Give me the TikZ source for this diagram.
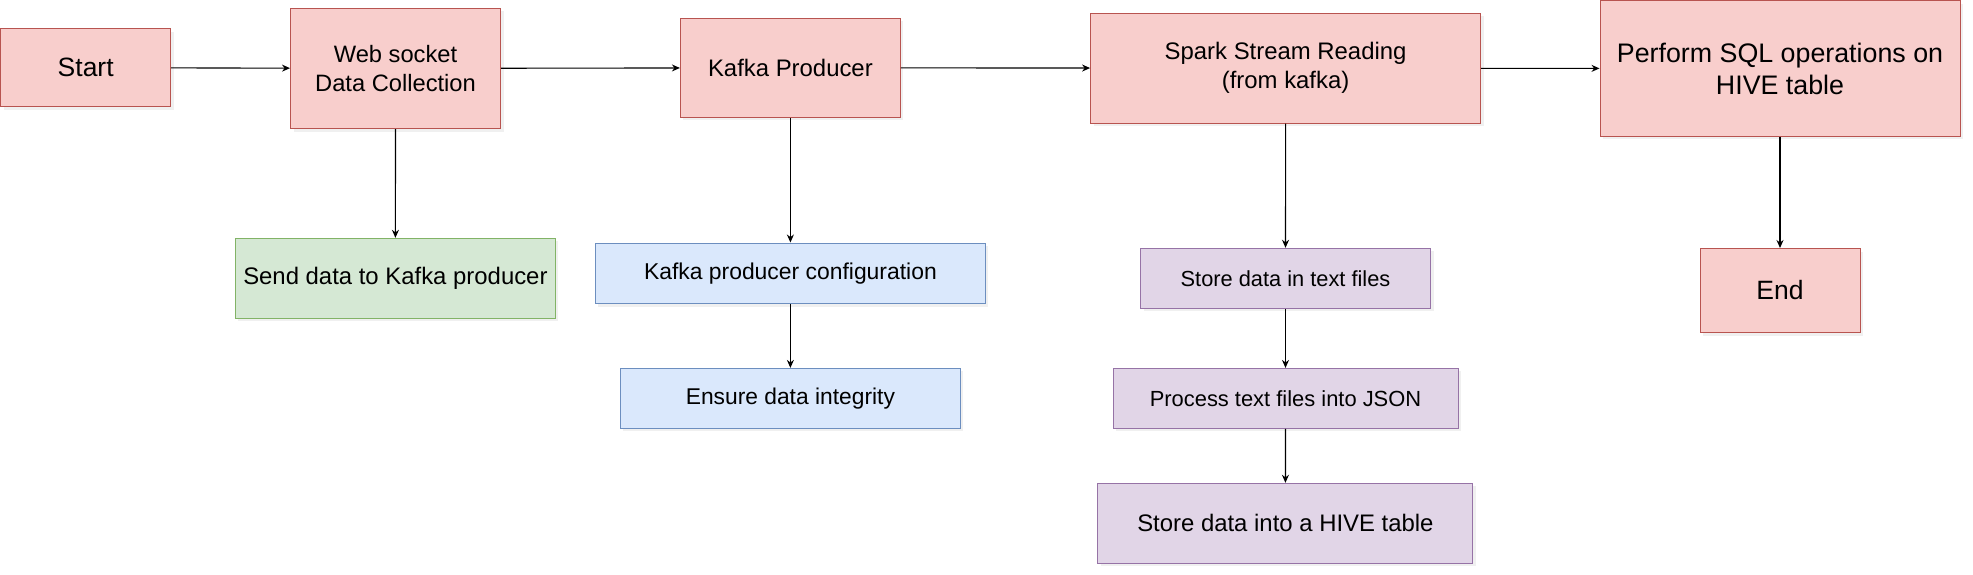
\documentclass[tikz,border=0pt]{standalone}
\usepackage{fontspec}
\setmainfont{Liberation Sans}
\usepackage{xcolor}
\usepackage{tikz}
\usetikzlibrary{arrows.meta,shadows}

\definecolor{redfill}{HTML}{F8CECC}
\definecolor{redline}{HTML}{B85450}
\definecolor{greenfill}{HTML}{D5E8D4}
\definecolor{greenline}{HTML}{82B366}
\definecolor{bluefill}{HTML}{DAE8FC}
\definecolor{blueline}{HTML}{6C8EBF}
\definecolor{purplefill}{HTML}{E1D5E7}
\definecolor{purpleline}{HTML}{9673A6}

\begin{document}
\begin{tikzpicture}[x=1pt, y=-1pt,
    box/.style={rectangle, line width=1pt, align=center, inner sep=0pt,
        drop shadow={shadow xshift=3pt, shadow yshift=-3pt, opacity=0.12, fill=gray}},
    redbox/.style={box, fill=redfill, draw=redline},
    greenbox/.style={box, fill=greenfill, draw=greenline},
    bluebox/.style={box, fill=bluefill, draw=blueline},
    purplebox/.style={box, fill=purplefill, draw=purpleline},
    flow/.style={-{Stealth[length=8pt,width=7pt]}, line width=1.1pt}]
            \useasboundingbox (0,0) rectangle (1973,575);
            % Main row
                        \node[redbox, minimum width=170pt, minimum height=78pt, font=\fontsize{26.5}{32}\selectfont] (start) at (85.7,67.7) {Start};
                        \node[redbox, minimum width=210pt, minimum height=120.6pt, font=\fontsize{23.7}{29}\selectfont] (websocket) at (395.5,68.4) {Web socket\\Data Collection};
                        \node[redbox, minimum width=220pt, minimum height=99pt, font=\fontsize{23.9}{29}\selectfont] (producer) at (790.4,67.8) {Kafka Producer};
                        \node[redbox, minimum width=390pt, minimum height=110pt, font=\fontsize{23.9}{29}\selectfont] (spark) at (1285.6,68.2) {Spark Stream Reading\\(from kafka)};
                        \node[redbox, minimum width=360pt, minimum height=135.5pt, font=\fontsize{26.8}{32}\selectfont] (sql) at (1780,68.5) {Perform SQL operations on\\HIVE table};
            % Branches
                        \node[greenbox, minimum width=320pt, minimum height=80pt, font=\fontsize{23.9}{29}\selectfont] (send) at (395.4,278.3) {Send data to Kafka producer};
                        \node[bluebox, minimum width=390pt, minimum height=60.6pt, font=\fontsize{22.9}{28}\selectfont] (config) at (790.4,273.3) {Kafka producer configuration};
                        \node[bluebox, minimum width=340pt, minimum height=60pt, font=\fontsize{22.8}{28}\selectfont] (integrity) at (790.4,398.4) {Ensure data integrity};
                        \node[purplebox, minimum width=290pt, minimum height=60pt, font=\fontsize{21.8}{27}\selectfont] (textfiles) at (1285.5,278.3) {Store data in text files};
                        \node[purplebox, minimum width=345pt, minimum height=60pt, font=\fontsize{21.9}{27}\selectfont] (json) at (1285.5,398.4) {Process text files into JSON};
                        \node[purplebox, minimum width=375pt, minimum height=80pt, font=\fontsize{23.9}{29}\selectfont] (hive) at (1285.4,523.3) {Store data into a HIVE table};
                        \node[redbox, minimum width=160pt, minimum height=84pt, font=\fontsize{26.5}{32}\selectfont] (end) at (1780,290.5) {End};
            % Connectors
                        \draw[flow] (start) -- (websocket);
                        \draw[flow] (websocket) -- (producer);
                        \draw[flow] (producer) -- (spark);
                        \draw[flow] (spark) -- (sql);
                        \draw[flow] (websocket) -- (send);
                        \draw[flow] (producer) -- (config);
                        \draw[flow] (config) -- (integrity);
                        \draw[flow] (spark) -- (textfiles);
                        \draw[flow] (textfiles) -- (json);
                        \draw[flow] (json) -- (hive);
                        \draw[flow] (sql) -- (end);
        \end{tikzpicture}
\end{document}
